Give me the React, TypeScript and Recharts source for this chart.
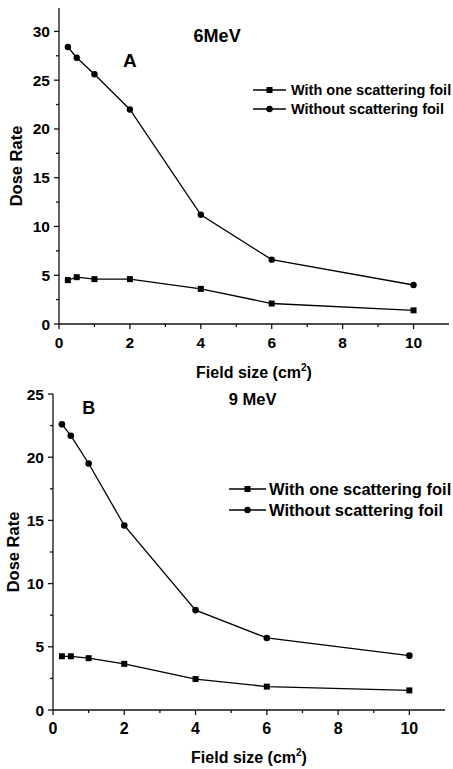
import React from 'react';
import { LineChart, Line, XAxis, YAxis, Legend, ReferenceDot } from 'recharts';

const fieldSizes = [0.25, 0.5, 1, 2, 4, 6, 10];
const withFoil6MeV = [4.5, 4.8, 4.6, 4.6, 3.6, 2.1, 1.4];
const withoutFoil6MeV = [28.4, 27.3, 25.6, 22.0, 11.2, 6.6, 4.0];
const withFoil9MeV = [4.25, 4.25, 4.1, 3.65, 2.45, 1.85, 1.55];
const withoutFoil9MeV = [22.6, 21.7, 19.5, 14.6, 7.9, 5.7, 4.3];

const xMajorTicks = [0, 2, 4, 6, 8, 10];
const xMinorTicks = [1, 3, 5, 7, 9];
const yMajorTicks6 = [0, 5, 10, 15, 20, 25, 30];
const yMinorTicks6 = [2.5, 7.5, 12.5, 17.5, 22.5, 27.5];
const yMajorTicks9 = [0, 5, 10, 15, 20, 25];
const yMinorTicks9 = [2.5, 7.5, 12.5, 17.5, 22.5];

const seriesNames = ['With one scattering foil', 'Without scattering foil'];
const energyLabels = ['6MeV', '9 MeV'];
const panelLabels = ['A', 'B'];
const xTitle = 'Field size (cm';
const yTitle = 'Dose Rate';

const FONT = '"Liberation Sans", Arial, sans-serif';
const INK = '#111';

const data6 = fieldSizes.map((x, i) => ({ x, withFoil: withFoil6MeV[i], withoutFoil: withoutFoil6MeV[i] }));
const data9 = fieldSizes.map((x, i) => ({ x, withFoil: withFoil9MeV[i], withoutFoil: withoutFoil9MeV[i] }));

const makeXTick = (fontSize: number) => (props: any) => {
  const { x, y, payload } = props;
  const major = xMajorTicks.includes(payload.value);
  return (
    <g>
      <line x1={x} y1={y} x2={x} y2={y + (major ? 5 : 3)} stroke={INK} strokeWidth={1.3} />
      {major && (
        <text x={x} y={y + 24} textAnchor="middle" fontSize={fontSize} fontWeight="bold" fontFamily={FONT} fill="#000">
          {payload.value}
        </text>
      )}
    </g>
  );
};

const makeYTick = (majors: number[]) => (props: any) => {
  const { x, y, payload } = props;
  const major = majors.includes(payload.value);
  return (
    <g>
      <line x1={x} y1={y} x2={x - (major ? 5 : 3)} y2={y} stroke={INK} strokeWidth={1.3} />
      {major && (
        <text x={x - 9} y={y + 5.5} textAnchor="end" fontSize={15.5} fontWeight="bold" fontFamily={FONT} fill="#000">
          {payload.value}
        </text>
      )}
    </g>
  );
};

const SquareDot = (size: number) => (props: any) => {
  const { cx, cy, index } = props;
  return <rect key={`sq-${index}`} x={cx - size / 2} y={cy - size / 2} width={size} height={size} fill="#000" />;
};

const makeLegend = (fontSize: number, lineW: number, rowH: number, gap: number) => (props: any) => {
  const payload = props.payload || [];
  return (
    <div style={{ whiteSpace: 'nowrap' }}>
      {payload.map((entry: any, i: number) => (
        <div key={i} style={{ display: 'flex', alignItems: 'center', height: rowH }}>
          <svg width={lineW} height={10} style={{ display: 'block', flexShrink: 0 }}>
            <line x1={0} y1={5} x2={lineW} y2={5} stroke="#000" strokeWidth={1.3} />
            {i === 0 ? (
              <rect x={lineW / 2 - 3} y={2} width={6} height={6} fill="#000" />
            ) : (
              <circle cx={lineW / 2} cy={5} r={3.2} fill="#000" />
            )}
          </svg>
          <span style={{ marginLeft: gap, flexShrink: 0, fontSize, fontWeight: 'bold', fontFamily: FONT, color: '#000', lineHeight: 1 }}>
            {entry.value}
          </span>
        </div>
      ))}
    </div>
  );
};

const XTitle = (baselineOffset: number) => (props: any) => {
  const vb = props.viewBox;
  return (
    <text x={vb.x + vb.width / 2} y={vb.y + baselineOffset} textAnchor="middle" fontSize={16} fontWeight="bold" fontFamily={FONT} fill="#000">
      {xTitle}
      <tspan dy={-7} fontSize={10}>2</tspan>
      <tspan dy={7}>)</tspan>
    </text>
  );
};

const YTitle = (baselineX: number) => (props: any) => {
  const vb = props.viewBox;
  return (
    <text
      transform={`translate(${baselineX}, ${vb.y + vb.height / 2}) rotate(-90)`}
      textAnchor="middle"
      fontSize={16.5}
      fontWeight="bold"
      fontFamily={FONT}
      fill="#000"
    >
      {yTitle}
    </text>
  );
};

const annotationStyle = (fontSize: number) => ({
  position: 'center' as const,
  fontSize,
  fontWeight: 'bold',
  fontFamily: FONT,
  fill: '#000',
});

export default function App() {
  return (
    <div style={{ position: 'absolute', left: 0, top: 0, width: 453, height: 769, background: '#fff', overflow: 'hidden' }}>
      <div style={{ position: 'absolute', left: 0, top: 0 }}>
        <LineChart width={453} height={385} data={data6} margin={{ top: 8, right: 4, left: 0, bottom: 0 }}>
          <XAxis
            dataKey="x"
            type="number"
            domain={[0, 11]}
            ticks={[...xMajorTicks, ...xMinorTicks].sort((a, b) => a - b)}
            interval={0}
            tickSize={0}
            tickMargin={0}
            tickLine={false}
            tick={makeXTick(15.5)}
            height={61}
            axisLine={{ stroke: INK, strokeWidth: 1.3 }}
            label={{ content: XTitle(54) }}
          />
          <YAxis
            type="number"
            domain={[0, 32.4]}
            ticks={[...yMajorTicks6, ...yMinorTicks6].sort((a, b) => a - b)}
            interval={0}
            tickSize={0}
            tickMargin={0}
            tickLine={false}
            tick={makeYTick(yMajorTicks6)}
            width={59}
            axisLine={{ stroke: INK, strokeWidth: 1.3 }}
            label={{ content: YTitle(22) }}
          />
          <Line
            name={seriesNames[0]}
            dataKey="withFoil"
            type="linear"
            stroke="#000"
            strokeWidth={1.3}
            dot={SquareDot(6)}
            isAnimationActive={false}
          />
          <Line
            name={seriesNames[1]}
            dataKey="withoutFoil"
            type="linear"
            stroke="#000"
            strokeWidth={1.3}
            dot={{ r: 3.2, fill: '#000', stroke: 'none' }}
            isAnimationActive={false}
          />
          <ReferenceDot x={4.46} y={29.6} r={0} fill="none" stroke="none" label={{ value: energyLabels[0], ...annotationStyle(18) }} />
          <ReferenceDot x={2.0} y={27.0} r={0} fill="none" stroke="none" label={{ value: panelLabels[0], ...annotationStyle(19) }} />
          <Legend
            layout="vertical"
            align="center"
            verticalAlign="middle"
            content={makeLegend(14.5, 33, 19, 5)}
            wrapperStyle={{ position: 'absolute', left: 253, top: 80.5, width: 220, height: 38 }}
          />
        </LineChart>
      </div>
      <div style={{ position: 'absolute', left: 0, top: 385 }}>
        <LineChart width={453} height={384} data={data9} margin={{ top: 9, right: 8, left: 0, bottom: 0 }}>
          <XAxis
            dataKey="x"
            type="number"
            domain={[0, 11]}
            ticks={[...xMajorTicks, ...xMinorTicks].sort((a, b) => a - b)}
            interval={0}
            tickSize={0}
            tickMargin={0}
            tickLine={false}
            tick={makeXTick(16)}
            height={59}
            axisLine={{ stroke: INK, strokeWidth: 1.3 }}
            label={{ content: XTitle(53) }}
          />
          <YAxis
            type="number"
            domain={[0, 25]}
            ticks={[...yMajorTicks9, ...yMinorTicks9].sort((a, b) => a - b)}
            interval={0}
            tickSize={0}
            tickMargin={0}
            tickLine={false}
            tick={makeYTick(yMajorTicks9)}
            width={53}
            axisLine={{ stroke: INK, strokeWidth: 1.3 }}
            label={{ content: YTitle(19) }}
          />
          <Line
            name={seriesNames[0]}
            dataKey="withFoil"
            type="linear"
            stroke="#000"
            strokeWidth={1.3}
            dot={SquareDot(6)}
            isAnimationActive={false}
          />
          <Line
            name={seriesNames[1]}
            dataKey="withoutFoil"
            type="linear"
            stroke="#000"
            strokeWidth={1.3}
            dot={{ r: 3.3, fill: '#000', stroke: 'none' }}
            isAnimationActive={false}
          />
          <ReferenceDot x={5.6} y={24.6} r={0} fill="none" stroke="none" label={{ value: energyLabels[1], ...annotationStyle(16.5) }} />
          <ReferenceDot x={1.0} y={23.9} r={0} fill="none" stroke="none" label={{ value: panelLabels[1], ...annotationStyle(18) }} />
          <Legend
            layout="vertical"
            align="center"
            verticalAlign="middle"
            content={makeLegend(16.5, 37, 21, 3)}
            wrapperStyle={{ position: 'absolute', left: 229, top: 93.5, width: 230, height: 42 }}
          />
        </LineChart>
      </div>
    </div>
  );
}
